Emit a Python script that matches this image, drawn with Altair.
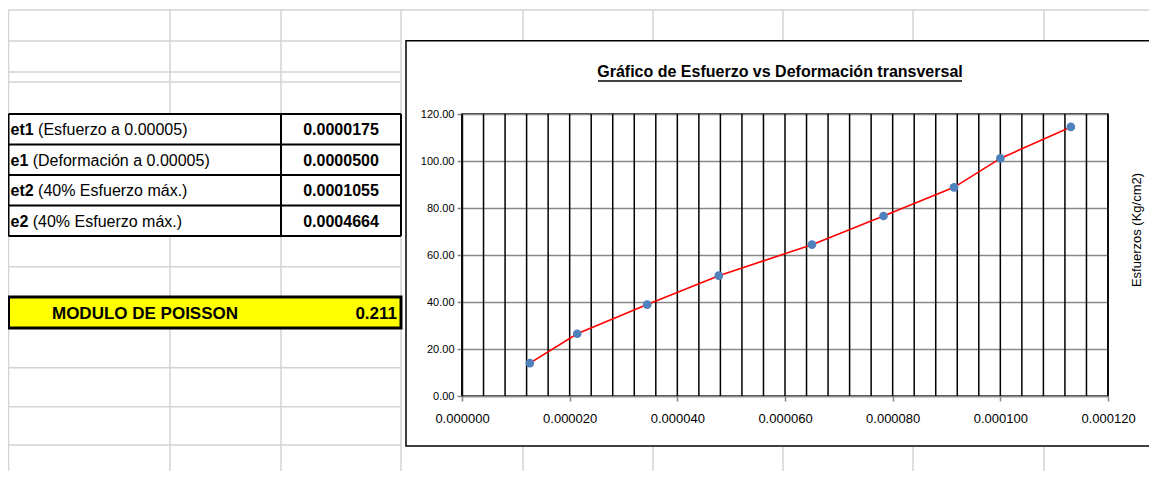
import altair as alt
import pandas as pd

# ---------------- data ----------------
deformacion = [12.6e-6, 21.4e-6, 34.4e-6, 47.7e-6, 65.0e-6, 78.3e-6, 91.4e-6, 100.0e-6, 113.1e-6]
esfuerzo = [14.0, 26.5, 38.9, 51.2, 64.4, 76.6, 88.8, 101.1, 114.5]
x_ticks = [0, 0.00002, 0.00004, 0.00006, 0.00008, 0.00010, 0.00012]
y_ticks = [0, 20, 40, 60, 80, 100, 120]
x_grid = [i * 0.000004 for i in range(31)]

table_keys = ["et1", "e1", "et2", "e2"]
table_descs = ["(Esfuerzo a 0.00005)", "(Deformación a 0.00005)",
               "(40% Esfuerzo máx.)", "(40% Esfuerzo máx.)"]
table_vals = ["0.0000175", "0.0000500", "0.0001055", "0.0004664"]
poisson_label = ["MODULO DE POISSON"]
poisson_value = ["0.211"]
chart_title = "Gráfico de Esfuerzo vs Deformación transversal"
y_title = "Esfuerzos  (Kg/cm2)"

# ---------------- layout (page pixel coordinates) ----------------
PX0, PY0 = 462, 114          # plot-area origin on the page
W, H = 646, 282              # plot-area size
TOT_W, TOT_H = 1141, 463
PAD = {"left": PX0 - 8, "top": PY0 - 8,
       "right": TOT_W - (PX0 - 8) - W, "bottom": TOT_H - (PY0 - 8) - H}

FONT = "Liberation Sans"


def rx(v):
    return v - PX0


def ry(v):
    return v - PY0


def px(field):
    return alt.X(field, type="quantitative", scale=None, axis=None)


def py(field):
    return alt.Y(field, type="quantitative", scale=None, axis=None)


def rules(segs, color, width):
    df = pd.DataFrame([{"x1": rx(a), "y1": ry(b), "x2": rx(c), "y2": ry(d)} for a, b, c, d in segs])
    return alt.Chart(df).mark_rule(color=color, strokeWidth=width).encode(
        x=px("x1"), y=py("y1"), x2="x2:Q", y2="y2:Q")


def rect(x1, y1, x2, y2, fill, stroke=None, sw=0):
    df = pd.DataFrame([{"x1": rx(x1), "y1": ry(y1), "x2": rx(x2), "y2": ry(y2)}])
    kw = dict(fill=fill)
    if stroke:
        kw.update(stroke=stroke, strokeWidth=sw)
    return alt.Chart(df).mark_rect(**kw).encode(x=px("x1"), y=py("y1"), x2="x2:Q", y2="y2:Q")


def texts(xs, ys, ts, **kw):
    df = pd.DataFrame({"x": [rx(v) for v in xs], "y": [ry(v) for v in ys], "t": ts})
    return alt.Chart(df).mark_text(**kw).encode(x=px("x"), y=py("y"), text="t:N")


# spreadsheet grid
L0 = 8.5
GRAY = "#d3d3d3"
gray_segs = []
for gx in [L0, 170, 281, 401]:
    gray_segs.append((gx, 10, gx, 479))
for gx in [523, 653, 783, 913, 1044]:
    gray_segs.append((gx, 10, gx, 40))
    gray_segs.append((gx, 447, gx, 479))
gray_segs.append((L0, 10, 1157, 10))
for gy in [41, 72, 82, 266.7, 367.7, 406.7, 445]:
    gray_segs.append((L0, gy, 401, gy))
sheet_grid = rules(gray_segs, GRAY, 1.5)

# table
row_edges = [114, 144.5, 175, 205.5, 236]
row_mid = [(row_edges[i] + row_edges[i + 1]) / 2 + 1 for i in range(4)]
table_bg = rect(L0, 114, 401, 236, "white")
tb_segs = [(L0, e, 401, e) for e in row_edges] + [(gx, 114, gx, 236) for gx in [L0, 281, 401]]
table_lines = rules(tb_segs, "black", 2)

FS_T = 16
bold_w = {"e": 0.556, "t": 0.333, "1": 0.556, "2": 0.556}
key_x = [10.5] * 4
desc_x = [10.5 + (sum(bold_w[c] for c in k) + 0.278) * FS_T for k in table_keys]
t_keys = texts(key_x, row_mid, table_keys, align="left", baseline="middle", font=FONT,
               fontSize=FS_T, fontWeight="bold", color="black")
t_descs = texts(desc_x, row_mid, table_descs, align="left", baseline="middle", font=FONT,
                fontSize=FS_T, color="black")
t_vals = texts([341] * 4, row_mid, table_vals, align="center", baseline="middle", font=FONT,
               fontSize=FS_T, fontWeight="bold", color="black")

poisson_box = rect(L0, 297, 401, 328, "#ffff00", "black", 3)
t_pl = texts([145], [314], poisson_label, align="center", baseline="middle", font=FONT,
             fontSize=17, fontWeight="bold", color="black")
t_pv = texts([397], [314], poisson_value, align="right", baseline="middle", font=FONT,
             fontSize=17, fontWeight="bold", color="black")

# chart box (no fill so the plot axes behind marks stay visible)
chart_box = rect(406, 40.7, 1152, 446, "transparent", "black", 1.5)

decor = alt.layer(sheet_grid, table_bg, table_lines, t_keys, t_descs, t_vals,
                  poisson_box, t_pl, t_pv, chart_box)

# ---------------- main plot ----------------
xs = alt.Scale(domain=[0, 0.00012], nice=False, zero=False)
ys = alt.Scale(domain=[0, 120], nice=False, zero=False)
xaxis = alt.Axis(values=x_ticks, format=".6f", title=None, grid=False, orient="bottom",
                 labelFont=FONT, labelFontSize=13, labelColor="black", tickColor="#888888",
                 tickSize=5, tickWidth=1.5, domainColor="#888888", domainWidth=1.5, labelPadding=11,
                 labelFlush=False)
yaxis = alt.Axis(values=y_ticks, format=".2f", title=None, grid=True, gridColor="#888888",
                 gridWidth=1.5, orient="left", labelFont=FONT, labelFontSize=11,
                 labelColor="black", tickColor="#888888", tickSize=5, tickWidth=1.5,
                 domainColor="#333333", domainWidth=1.5, labelPadding=3)

df_pts = pd.DataFrame({"def": deformacion, "esf": esfuerzo})
df_grid = pd.DataFrame({"g": x_grid})

vgrid = alt.Chart(df_grid).mark_rule(color="black", strokeWidth=1.5).encode(
    x=alt.X("g:Q", scale=xs, axis=xaxis))
line = alt.Chart(df_pts).mark_line(color="#ff0000", strokeWidth=1.6).encode(
    x=alt.X("def:Q", scale=xs, axis=xaxis), y=alt.Y("esf:Q", scale=ys, axis=yaxis))
pts = alt.Chart(df_pts).mark_point(filled=True, shape="circle", size=75, color="#4f81bd",
                                   opacity=1).encode(
    x=alt.X("def:Q", scale=xs, axis=xaxis), y=alt.Y("esf:Q", scale=ys, axis=yaxis))
main = alt.layer(vgrid, line, pts)

# titles
t_title = texts([780], [72], [chart_title], align="center", baseline="middle", font=FONT,
                fontSize=16, fontWeight="bold", color="black")
underline = rules([(598, 81, 962, 81)], "black", 1.3)
t_ytitle = texts([1137], [230], [y_title], align="center", baseline="middle", angle=270,
                 font=FONT, fontSize=13, color="black")
top = alt.layer(t_title, underline, t_ytitle)

chart = alt.layer(decor, main, top).resolve_scale(x="independent", y="independent").properties(
    width=W, height=H, autosize=alt.AutoSizeParams(type="none"), padding=PAD
).configure_view(stroke="black", strokeWidth=1.5)

chart.save("out.html", embed_options={"renderer": "svg", "actions": False})
